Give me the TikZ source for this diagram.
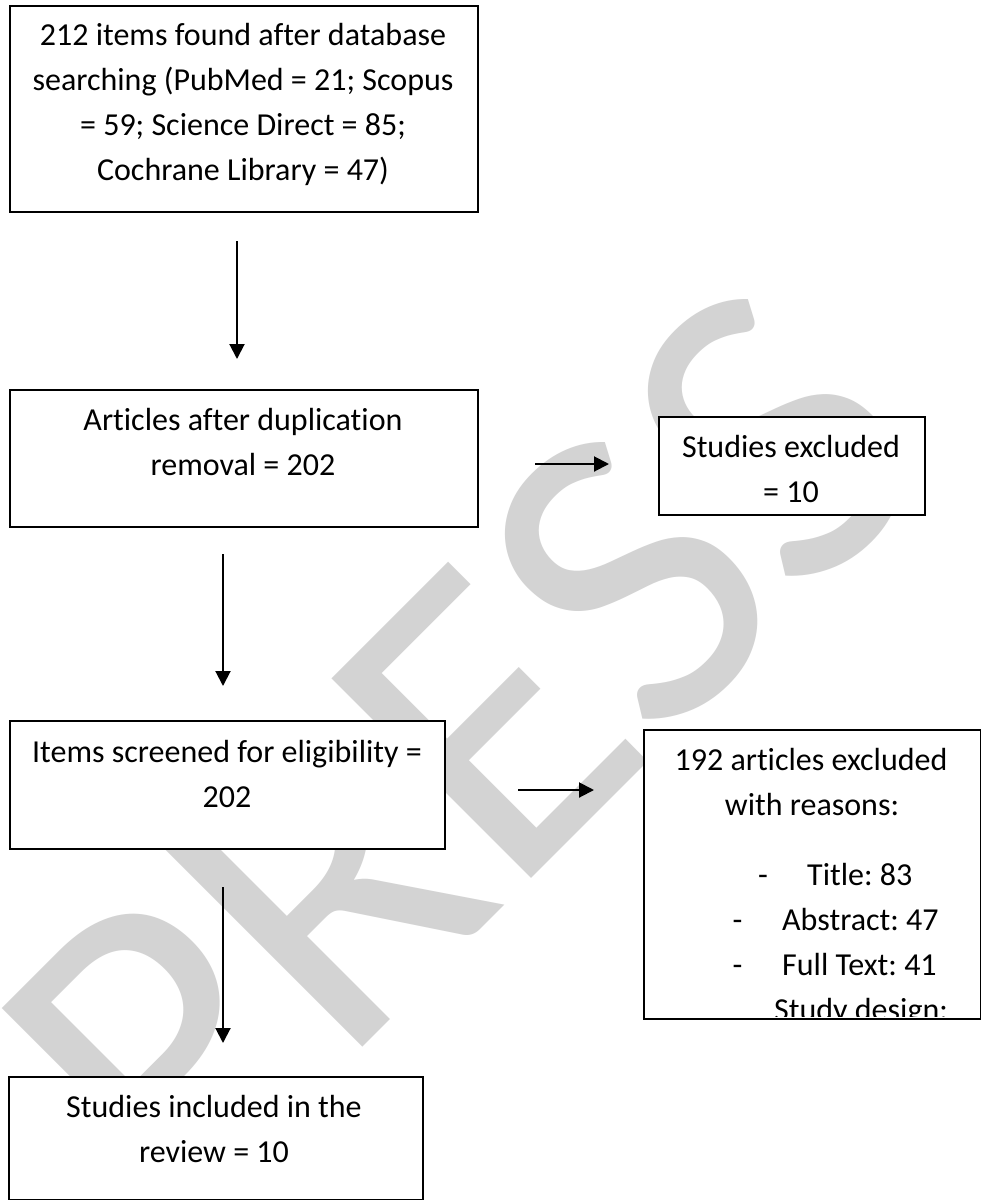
\documentclass[tikz,border=0pt]{standalone}
\usepackage{fontspec}
\setmainfont{Carlito}[Ligatures={TeX,NoCommon,NoRare,NoContextual}]
\usetikzlibrary{arrows.meta}
\definecolor{wmgray}{RGB}{211,211,211}
\frenchspacing
\begin{document}
\begin{tikzpicture}[x=1pt,y=-1pt,
  box/.style={draw=black, line width=2pt, fill=white, inner sep=0pt, anchor=north west},
  ln/.style={font=\fontsize{32}{45}\selectfont, inner sep=0pt, anchor=base},
  lnw/.style={ln, anchor=base west},
  arr/.style={line width=2pt, -{Triangle[length=15pt,width=15pt]}},
]
\clip (0,0) rectangle (981,1200);
\fill[white] (0,0) rectangle (981,1200);
% watermark
\node[rotate=45, anchor=center, inner sep=0pt, text=wmgray,
      font=\fontsize{440}{440}\selectfont] (wm) at (462,748) {PRESS};
% boxes
\node[box, minimum width=468pt, minimum height=206pt] (b1) at (9,5) {};
\node[box, minimum width=468pt, minimum height=137pt] (b2) at (9,389) {};
\node[box, minimum width=266pt, minimum height=98pt] (b3) at (658,416) {};
\node[box, minimum width=435pt, minimum height=128pt] (b4) at (9,720) {};
\node[box, minimum width=337pt, minimum height=289pt] (b5) at (643,729) {};
\node[box, minimum width=414pt, minimum height=123pt] (b6) at (8,1076) {};
% texts
\node[ln] (t1a) at (243,45) {212 items found after database};
\node[ln] (t1b) at (243,90) {searching (PubMed = 21; Scopus};
\node[ln] (t1c) at (243,135) {= 59; Science Direct = 85;};
\node[ln] (t1d) at (243,180) {Cochrane Library = 47)};
\node[ln] (t2a) at (243,430) {Articles after duplication};
\node[ln] (t2b) at (243,475) {removal = 202};
\node[ln] (t3a) at (791,457) {Studies excluded};
\node[ln] (t3b) at (791,502) {= 10};
\node[ln] (t4a) at (227,762) {Items screened for eligibility =};
\node[ln] (t4b) at (227,807) {202};
\node[ln] (t5a) at (811,770) {192 articles excluded};
\node[ln] (t5b) at (812,815) {with reasons:};
\node[ln] (d5c) at (763,885) {-};
\node[lnw] (t5c) at (807,885) {Title: 83};
\node[ln] (d5d) at (737.5,930) {-};
\node[lnw] (t5d) at (782,930) {Abstract: 47};
\node[ln] (d5e) at (737.5,975) {-};
\node[lnw] (t5e) at (782,975) {Full Text: 41};
\begin{scope}
  \clip (644,730) rectangle (979,1016);
  \node[lnw] (t5f) at (774,1020) {Study design:};
\end{scope}
\node[ln] (t6a) at (214,1117) {Studies included in the};
\node[ln] (t6b) at (214,1162) {review = 10};
% connectors
\coordinate (a1s) at (237,241); \coordinate (a1e) at (237,359);
\coordinate (a2s) at (535,464); \coordinate (a2e) at (609,464);
\coordinate (a3s) at (223,554); \coordinate (a3e) at (223,686);
\coordinate (a4s) at (518,790); \coordinate (a4e) at (594,790);
\coordinate (a5s) at (223,887); \coordinate (a5e) at (223,1043);
\draw[arr] (a1s) -- (a1e);
\draw[arr] (a2s) -- (a2e);
\draw[arr] (a3s) -- (a3e);
\draw[arr] (a4s) -- (a4e);
\draw[arr] (a5s) -- (a5e);
\end{tikzpicture}
\end{document}
